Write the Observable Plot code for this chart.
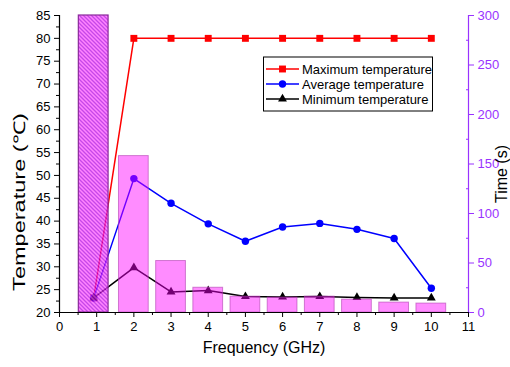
<!DOCTYPE html>
<html><head><meta charset="utf-8">
<script src="https://cdn.jsdelivr.net/npm/d3@7"></script>
<script src="https://cdn.jsdelivr.net/npm/@observablehq/plot@0.6"></script>
<style>body{margin:0;background:#fff;} svg{display:block}</style>
</head><body><div id="chart"></div>
<script>
// Data
const frequency = [0.92, 2, 3, 4, 5, 6, 7, 8, 9, 10];           // GHz
const maxTemp   = [23.2, 80, 80, 80, 80, 80, 80, 80, 80, 80];     // °C
const avgTemp   = [23.2, 49.3, 43.9, 39.4, 35.6, 38.7, 39.5, 38.2, 36.2, 25.3];
const minTemp   = [23.2, 29.8, 24.5, 24.8, 23.5, 23.4, 23.5, 23.3, 23.2, 23.2];
const timeSec   = [300, 158, 52, 25, 16, 15, 16, 13, 10, 9];      // s
const xTicks = [0,1,2,3,4,5,6,7,8,9,10,11];
const tempTicks = [20,25,30,35,40,45,50,55,60,65,70,75,80,85];
const timeTicks = [0,50,100,150,200,250,300];
const seriesNames = ["Maximum temperature","Average temperature","Minimum temperature"];

const T0 = 20, T1 = 85, S1 = 300;
const toTemp = s => T0 + s * (T1 - T0) / S1;
const toTime = t => (t - T0) * S1 / (T1 - T0);
const rows = frequency.map((f, i) => ({f, max: maxTemp[i], avg: avgTemp[i], min: minTemp[i], time: timeSec[i], t: toTemp(timeSec[i]), first: i === 0}));
const purple = "#9933ff";
const halfW = 0.4;
const FONT = "'Liberation Sans', Arial, sans-serif";

const svg = Plot.plot({
  width: 510, height: 367,
  marginLeft: 59, marginRight: 42, marginTop: 15, marginBottom: 55,
  style: {fontFamily: FONT, fontSize: "13px", background: "#fff", color: "#000", overflow: "visible"},
  x: {domain: [0, 11]},
  y: {domain: [T0, T1]},
  marks: [
    Plot.lineY(rows, {x: "f", y: "max", stroke: "#ff0000", strokeWidth: 1.5}),
    Plot.dot(rows, {x: "f", y: "max", symbol: "square", r: 3.9, fill: "#ff0000"}),
    Plot.lineY(rows, {x: "f", y: "avg", stroke: "#0000ff", strokeWidth: 1.5}),
    Plot.dot(rows, {x: "f", y: "avg", symbol: "circle", r: 3.7, fill: "#0000ff"}),
    Plot.lineY(rows, {x: "f", y: "min", stroke: "#000000", strokeWidth: 1.5}),
    Plot.dot(rows, {x: "f", y: "min", symbol: "triangle", r: 3.3, fill: "#000000"}),
    Plot.rect(rows.filter(d => !d.first), {x1: d => d.f - halfW, x2: d => d.f + halfW, y1: T0, y2: "t",
      fill: "#ff00ff", fillOpacity: 0.45, stroke: "#b040b0", strokeOpacity: 0.6, strokeWidth: 1}),
    Plot.rect(rows.filter(d => d.first), {x1: d => d.f - halfW, x2: d => d.f + halfW, y1: T0, y2: "t",
      fill: "url(#hatch)", fillOpacity: 0.72, stroke: "#8a2a9a", strokeWidth: 1.2}),
    // axis lines
    Plot.ruleY([T0], {stroke: "#000", strokeWidth: 1.2}),
    Plot.ruleX([0], {stroke: "#000", strokeWidth: 1.2}),
    Plot.ruleX([11], {stroke: purple, strokeWidth: 1.2}),
    // bottom axis
    Plot.axisX({ticks: xTicks, tickSize: 5, tickPadding: 4, label: null, tickFormat: d => d}),
    Plot.axisX({ticks: d3.range(0.5, 11, 1), tickSize: 3, text: null, label: null}),
    // left axis
    Plot.axisY({ticks: tempTicks, tickSize: 5, tickPadding: 4, label: null, tickFormat: d => d}),
    Plot.axisY({ticks: d3.range(22.5, 85, 5), tickSize: 3, text: null, label: null}),
    // right axis (time)
    Plot.axisY({anchor: "right", ticks: timeTicks.map(toTemp), tickFormat: v => Math.round(toTime(v)), tickSize: 5, tickPadding: 4, color: purple, label: null}),
    Plot.axisY({anchor: "right", ticks: d3.range(25, 300, 50).map(toTemp), tickSize: 3, dx: -3, text: null, color: purple, label: null}),
    // x title
    Plot.text(["Frequency (GHz)"], {frameAnchor: "bottom", dy: 40, fontSize: 16})
  ]
});

document.getElementById("chart").appendChild(svg);
const root = d3.select(svg);

// hatch pattern for first bar
const defs = root.insert("defs", ":first-child");
const pat = defs.append("pattern").attr("id", "hatch").attr("patternUnits", "userSpaceOnUse")
  .attr("width", 4).attr("height", 4);
pat.append("rect").attr("width", 4).attr("height", 4).attr("fill", "#ff55ff");
pat.append("path").attr("d", "M-1,-1L5,5M-1,3L1,5M3,-1L5,1").attr("stroke", "#b000e0").attr("stroke-width", 1.3);

// y titles (left stretched along its length as in the reference)
const lt = root.append("text").attr("font-family", FONT).attr("font-size", 16)
  .attr("text-anchor", "middle").attr("dy", "0.35em").text("Temperature (℃)");
const natural = lt.node().getComputedTextLength();
const sx = 178 / natural;
lt.attr("transform", `translate(19,202) rotate(-90) scale(${sx},1)`);

root.append("text").attr("font-family", FONT).attr("font-size", 16)
  .attr("text-anchor", "middle").attr("dy", "0.35em")
  .attr("transform", "translate(501,174) rotate(-90)").text("Time (s)");

// legend
const lg = root.append("g").attr("font-family", FONT).attr("font-size", 13).attr("text-anchor", "start");
lg.append("rect").attr("x", 263.5).attr("y", 57).attr("width", 169).attr("height", 54)
  .attr("fill", "#fff").attr("stroke", "#000").attr("stroke-width", 1);
const legendItems = [
  {name: seriesNames[0], color: "#ff0000", sym: d3.symbolSquare, r: 3.9},
  {name: seriesNames[1], color: "#0000ff", sym: d3.symbolCircle, r: 3.7},
  {name: seriesNames[2], color: "#000000", sym: d3.symbolTriangle, r: 3.3}
];
legendItems.forEach((it, i) => {
  const y = 69 + i * 15;
  lg.append("line").attr("x1", 266).attr("x2", 299).attr("y1", y).attr("y2", y).attr("stroke", it.color).attr("stroke-width", 1.5);
  lg.append("path").attr("d", d3.symbol(it.sym, Math.PI * it.r * it.r)()).attr("transform", `translate(282.5,${y})`).attr("fill", it.color);
  lg.append("text").attr("x", 302).attr("y", y).attr("dy", "0.35em").text(it.name);
});
</script>
</body></html>
